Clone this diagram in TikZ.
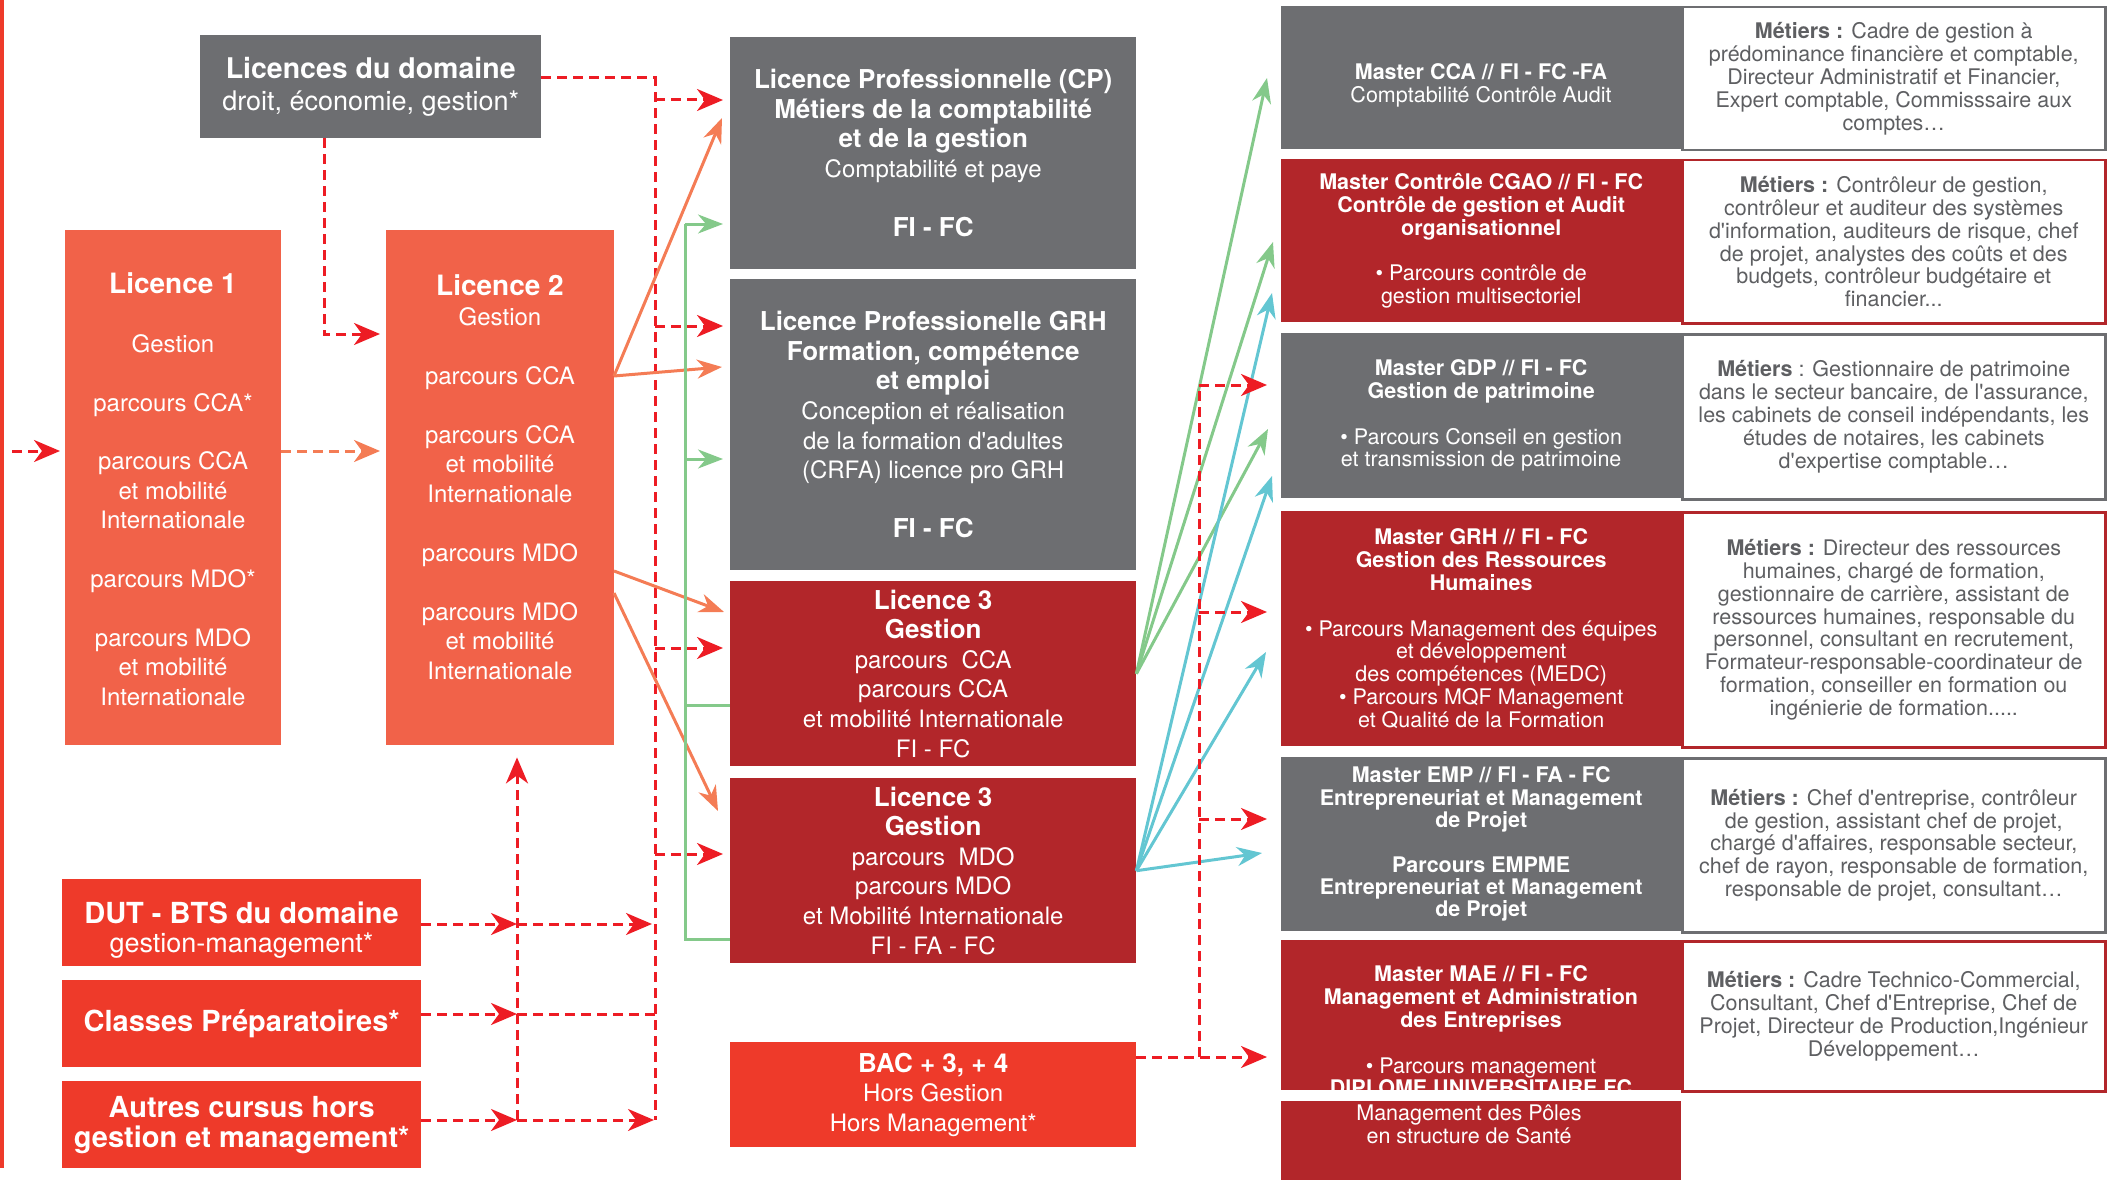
\documentclass[tikz,border=0pt]{standalone}
\usepackage{fontspec}
\setmainfont{TeX Gyre Heros}[Ligatures=TeXOff]
\usetikzlibrary{arrows.meta}

\definecolor{boxgray}{HTML}{6D6E71}
\definecolor{salmon}{HTML}{F16249}
\definecolor{darkred}{HTML}{B2262A}
\definecolor{brightred}{HTML}{EE3A2A}
\definecolor{dashred}{HTML}{ED1C24}
\definecolor{lineorange}{HTML}{F47C55}
\definecolor{linegreen}{HTML}{84C98A}
\definecolor{linecyan}{HTML}{63C6D2}
\definecolor{metgray}{HTML}{5E5F62}

\newcommand{\bsz}[2]{{\fontsize{#1}{#1}\selectfont\bfseries #2}}

\tikzset{
  box/.style={anchor=north west, inner sep=0pt, align=center, text=white},
  greybox/.style={box, fill=boxgray},
  salmonbox/.style={box, fill=salmon, font=\fontsize{24}{29.4}\selectfont},
  redbox/.style={box, fill=brightred},
  wine/.style={box, fill=darkred},
  leftcol/.style={minimum width=359pt, minimum height=87pt, font=\fontsize{27}{29.5}\selectfont},
  midcol/.style={minimum width=406pt, font=\fontsize{24}{29.6}\selectfont},
  mastercol/.style={minimum width=400pt, font=\fontsize{21.5}{22.8}\selectfont},
  jobs/.style={box, fill=white, line width=2.5pt, text=metgray, minimum width=423pt, font=\fontsize{21.5}{22.8}\selectfont},
  txt/.style={inner sep=0pt, align=center, text=white},
  feed/.style={dashred, line width=3pt, dash pattern=on 10pt off 6pt},
  feedtip/.style={-{Stealth[length=26pt, width=22pt, inset=8pt]}},
  flow/.style={line width=3pt, -{Stealth[length=25pt, width=19pt, inset=8pt]}},
}

\begin{document}
\begin{tikzpicture}[x=1pt, y=-1pt]
\useasboundingbox (0,0) rectangle (2113,1180);

%%%%% LEFT COLUMN %%%%%
\fill[brightred] (0,0) rectangle (4,1168);

\node[greybox, minimum width=341pt, minimum height=103pt, font=\fontsize{27}{32}\selectfont] (dom) at (200,35)
  {\bsz{28.5}{Licences du domaine}\\droit, économie, gestion*};

\node[salmonbox, minimum width=216pt, minimum height=515pt] (l1) at (65,230) {};
\node[txt, font=\fontsize{24}{29.4}\selectfont] (l1text) at (173,489)
  {\bsz{28}{Licence 1}\\[29.4pt]Gestion\\[29.4pt]parcours CCA*\\[29.4pt]parcours CCA\\et mobilité\\Internationale\\[29.4pt]parcours MDO*\\[29.4pt]parcours MDO\\et mobilité\\Internationale};

\node[salmonbox, minimum width=228pt, minimum height=515pt] (l2) at (386,230) {};
\node[txt, font=\fontsize{24}{29.5}\selectfont] (l2text) at (500,477)
  {\bsz{28}{Licence 2}\\Gestion\\[29.5pt]parcours CCA\\[29.5pt]parcours CCA\\et mobilité\\Internationale\\[29.5pt]parcours MDO\\[29.5pt]parcours MDO\\et mobilité\\Internationale};

\node[redbox, leftcol] (dut) at (62,879) {};
\node[txt, font=\fontsize{27}{29.5}\selectfont] (duttext) at (241.5,930) {\bsz{29}{DUT - BTS du domaine}\\gestion-management*};
\node[redbox, leftcol] (prep) at (62,980) {\bsz{29}{Classes Préparatoires*}};
\node[redbox, leftcol, font=\fontsize{29}{30}\selectfont\bfseries] (autres) at (62,1081) {Autres cursus hors\\gestion et management*};

%%%%% MIDDLE COLUMN %%%%%
\node[greybox, midcol, minimum height=232pt] (lpcp) at (730,37)
  {\bsz{26}{Licence Professionnelle (CP)}\\\bsz{26}{Métiers de la comptabilité}\\\bsz{26}{et de la gestion}\\Comptabilité et paye\\[29.6pt]\bsz{26}{FI - FC}};
\node[greybox, midcol, minimum height=291pt] (lpgrh) at (730,279)
  {\bsz{26}{Licence Professionelle GRH}\\\bsz{26}{Formation, compétence}\\\bsz{26}{et emploi}\\Conception et réalisation\\de la formation d'adultes\\(CRFA) licence pro GRH\\[29.6pt]\bsz{26}{FI - FC}};
\node[wine, midcol, minimum height=185pt] (l3a) at (730,581)
  {\bsz{26}{Licence 3}\\\bsz{26}{Gestion}\\parcours\ \ CCA\\parcours CCA\\et mobilité Internationale\\FI - FC};
\node[wine, midcol, minimum height=185pt] (l3b) at (730,778)
  {\bsz{26}{Licence 3}\\\bsz{26}{Gestion}\\parcours\ \ MDO\\parcours MDO\\et Mobilité Internationale\\FI - FA - FC};
\node[redbox, midcol, minimum height=105pt] (bac) at (730,1042)
  {\bsz{26}{BAC + 3, + 4}\\Hors Gestion\\Hors Management*};

%%%%% MASTERS %%%%%
\node[jobs, draw=boxgray, minimum height=143pt] (jcca) at (1681,6)
  {\textbf{Métiers :} Cadre de gestion à\\prédominance financière et comptable,\\Directeur Administratif et Financier,\\Expert comptable, Commisssaire aux\\comptes…};
\node[greybox, mastercol, minimum height=143pt] (mcca) at (1281,6) {};
\node[txt, font=\fontsize{21.5}{22.8}\selectfont] (mccatext) at (1481,85)
  {\textbf{Master CCA // FI - FC -FA}\\Comptabilité Contrôle Audit};

\node[jobs, draw=darkred, minimum height=163pt] (jcgao) at (1681,159)
  {\textbf{Métiers :} Contrôleur de gestion,\\contrôleur et auditeur des systèmes\\d'information, auditeurs de risque, chef\\de projet, analystes des coûts et des\\budgets, contrôleur budgétaire et\\financier...};
\node[wine, mastercol, minimum height=163pt] (mcgao) at (1281,159)
  {\textbf{Master Contrôle CGAO // FI - FC}\\\textbf{Contrôle de gestion et Audit}\\\textbf{organisationnel}\\[22.8pt]• Parcours contrôle de\\gestion multisectoriel};

\node[jobs, draw=boxgray, minimum height=165pt] (jgdp) at (1681,333)
  {\textbf{Métiers} : Gestionnaire de patrimoine\\dans le secteur bancaire, de l'assurance,\\les cabinets de conseil indépendants, les\\études de notaires, les cabinets\\d'expertise comptable…};
\node[greybox, mastercol, minimum height=165pt] (mgdp) at (1281,333)
  {\textbf{Master GDP // FI - FC}\\\textbf{Gestion de patrimoine}\\[22.8pt]• Parcours Conseil en gestion\\et transmission de patrimoine};

\node[jobs, draw=darkred, minimum height=235pt] (jgrh) at (1681,511)
  {\textbf{Métiers :} Directeur des ressources\\humaines, chargé de formation,\\gestionnaire de carrière, assistant de\\ressources humaines, responsable du\\personnel, consultant en recrutement,\\Formateur-responsable-coordinateur de\\formation, conseiller en formation ou\\ingénierie de formation.....};
\node[wine, mastercol, minimum height=235pt] (mgrh) at (1281,511)
  {\textbf{Master GRH // FI - FC}\\\textbf{Gestion des Ressources}\\\textbf{Humaines}\\[22.8pt]• Parcours Management des équipes\\et développement\\des compétences (MEDC)\\• Parcours MQF Management\\et Qualité de la Formation};

\node[jobs, draw=boxgray, minimum height=174pt] (jemp) at (1681,757)
  {\textbf{Métiers :} Chef d'entreprise, contrôleur\\de gestion, assistant chef de projet,\\chargé d'affaires, responsable secteur,\\chef de rayon, responsable de formation,\\responsable de projet, consultant…};
\node[greybox, mastercol, minimum height=174pt, font=\fontsize{21.5}{22.4}\selectfont\bfseries] (memp) at (1281,757)
  {Master EMP // FI - FA - FC\\Entrepreneuriat et Management\\de Projet\\[22pt]Parcours EMPME\\Entrepreneuriat et Management\\de Projet};

\node[jobs, draw=darkred, minimum height=150pt] (jmae) at (1681,940)
  {\textbf{Métiers :} Cadre Technico-Commercial,\\Consultant, Chef d'Entreprise, Chef de\\Projet, Directeur de Production,Ingénieur\\Développement…};
\node[wine, mastercol, minimum height=150pt] (mmae) at (1281,940) {};
\begin{scope}
  \clip (mmae.north west) rectangle (mmae.south east);
  \node[txt, font=\fontsize{21.5}{22.8}\selectfont] (maetext) at (1481,1031)
    {\textbf{Master MAE // FI - FC}\\\textbf{Management et Administration}\\\textbf{des Entreprises}\\[22.8pt]• Parcours management\\\textbf{DIPLOME UNIVERSITAIRE FC}};
\end{scope}

\node[wine, minimum width=400pt, minimum height=79pt] (mdu) at (1281,1101) {};
\node[txt, font=\fontsize{21.5}{22.8}\selectfont] (dutext) at (1469,1124)
  {Management des Pôles\\en structure de Santé};

%%%%% RED DASHED FEEDS, LEFT %%%%%
\coordinate (lin) at (12,451);
\coordinate (lfeed) at (324,334);
\coordinate (ltop) at (655,78);
\coordinate (kCP) at (655,100);
\coordinate (kGRH) at (655,326);
\coordinate (kL3a) at (655,648);
\coordinate (kL3b) at (655,854);
\coordinate (kDUT) at (655,924);
\coordinate (kPrep) at (655,1014);
\coordinate (lbot) at (655,1120);
\coordinate (mDUT) at (517,924);
\coordinate (mPrep) at (517,1014);
\coordinate (mbot) at (517,1120);

\draw[feed, feedtip, shorten >=5pt] (lin) -- (lin -| l1.west);
\draw[feed, lineorange, feedtip, shorten >=6pt] (l1.east |- lin) -- (lin -| l2.west);
\draw[feed, feedtip, shorten >=6pt] (lfeed |- dom.south) -- (lfeed) -- (lfeed -| l2.west);

\draw[feed] (dom.east |- ltop) -- (ltop) -- (lbot);
\draw[feed, feedtip, shorten >=7pt] (kCP) -- (kCP -| lpcp.west);
\draw[feed, feedtip, shorten >=7pt] (kGRH) -- (kGRH -| lpgrh.west);
\draw[feed, feedtip, shorten >=7pt] (kL3a) -- (kL3a -| l3a.west);
\draw[feed, feedtip, shorten >=7pt] (kL3b) -- (kL3b -| l3b.west);

\draw[feed, feedtip] (dut.east |- mDUT) -- (mDUT);
\draw[feed, feedtip, shorten >=3pt] (mDUT) -- (kDUT);
\draw[feed, feedtip] (prep.east |- mPrep) -- (mPrep);
\draw[feed] (mPrep) -- (kPrep);
\draw[feed, feedtip] (autres.east |- mbot) -- (mbot);
\draw[feed, feedtip, shorten >=1pt] (mbot) -- (lbot);
\draw[feed, feedtip, shorten >=12pt] (mbot) -- (mbot |- l2.south);

%%%%% L2 TO LICENCES %%%%%
\coordinate (oCCA) at (614,376);
\coordinate (oMDO) at (614,571);
\coordinate (oMDOi) at (614,593);
\coordinate (tCP) at (722,118);
\coordinate (tGRH) at (722,367);
\coordinate (tL3a) at (724,612);
\coordinate (tL3b) at (718,811);
\draw[flow, lineorange] (oCCA) -- (tCP);
\draw[flow, lineorange] (oCCA) -- (tGRH);
\draw[flow, lineorange] (oMDO) -- (tL3a);
\draw[flow, lineorange] (oMDOi) -- (tL3b);

%%%%% L3 BACK TO LICENCES PRO %%%%%
\coordinate (gCP) at (685,224);
\coordinate (gGRH) at (685,459);
\coordinate (gL3a) at (685,705);
\coordinate (gL3b) at (685,939);
\draw[flow, linegreen, -] (gCP) -- (gL3b) -- (gL3b -| l3b.west);
\draw[flow, linegreen, -] (gL3a) -- (gL3a -| l3a.west);
\draw[flow, linegreen, shorten >=7pt] (gCP) -- (gCP -| lpcp.west);
\draw[flow, linegreen, shorten >=7pt] (gGRH) -- (gGRH -| lpgrh.west);

%%%%% L3 TO MASTERS %%%%%
\coordinate (gmCCA) at (1267,78);
\coordinate (gmCGAO) at (1273,242);
\coordinate (gmGDP) at (1268,429);
\coordinate (cmCGAO) at (1272,293);
\coordinate (cmGDP) at (1272,476);
\coordinate (cmGRH) at (1266,652);
\coordinate (cmEMP) at (1262,853);
\draw[flow, linegreen] (l3a.east) -- (gmCCA);
\draw[flow, linegreen] (l3a.east) -- (gmCGAO);
\draw[flow, linegreen] (l3a.east) -- (gmGDP);
\draw[flow, linecyan] (l3b.east) -- (cmCGAO);
\draw[flow, linecyan] (l3b.east) -- (cmGDP);
\draw[flow, linecyan] (l3b.east) -- (cmGRH);
\draw[flow, linecyan] (l3b.east) -- (cmEMP);

%%%%% RED DASHED FEEDS, RIGHT %%%%%
\coordinate (kGDP) at (1199,385);
\coordinate (kMGRH) at (1199,612);
\coordinate (kEMP) at (1199,819);
\coordinate (kMAE) at (1199,1057);
\draw[feed] (kMAE) -- (kGDP);
\draw[feed, feedtip, shorten >=14pt] (bac.east |- kMAE) -- (kMAE -| mmae.west);
\draw[feed, feedtip, shorten >=14pt] (kGDP) -- (kGDP -| mgdp.west);
\draw[feed, feedtip, shorten >=14pt] (kMGRH) -- (kMGRH -| mgrh.west);
\draw[feed, feedtip, shorten >=14pt] (kEMP) -- (kEMP -| memp.west);

\end{tikzpicture}
\end{document}
